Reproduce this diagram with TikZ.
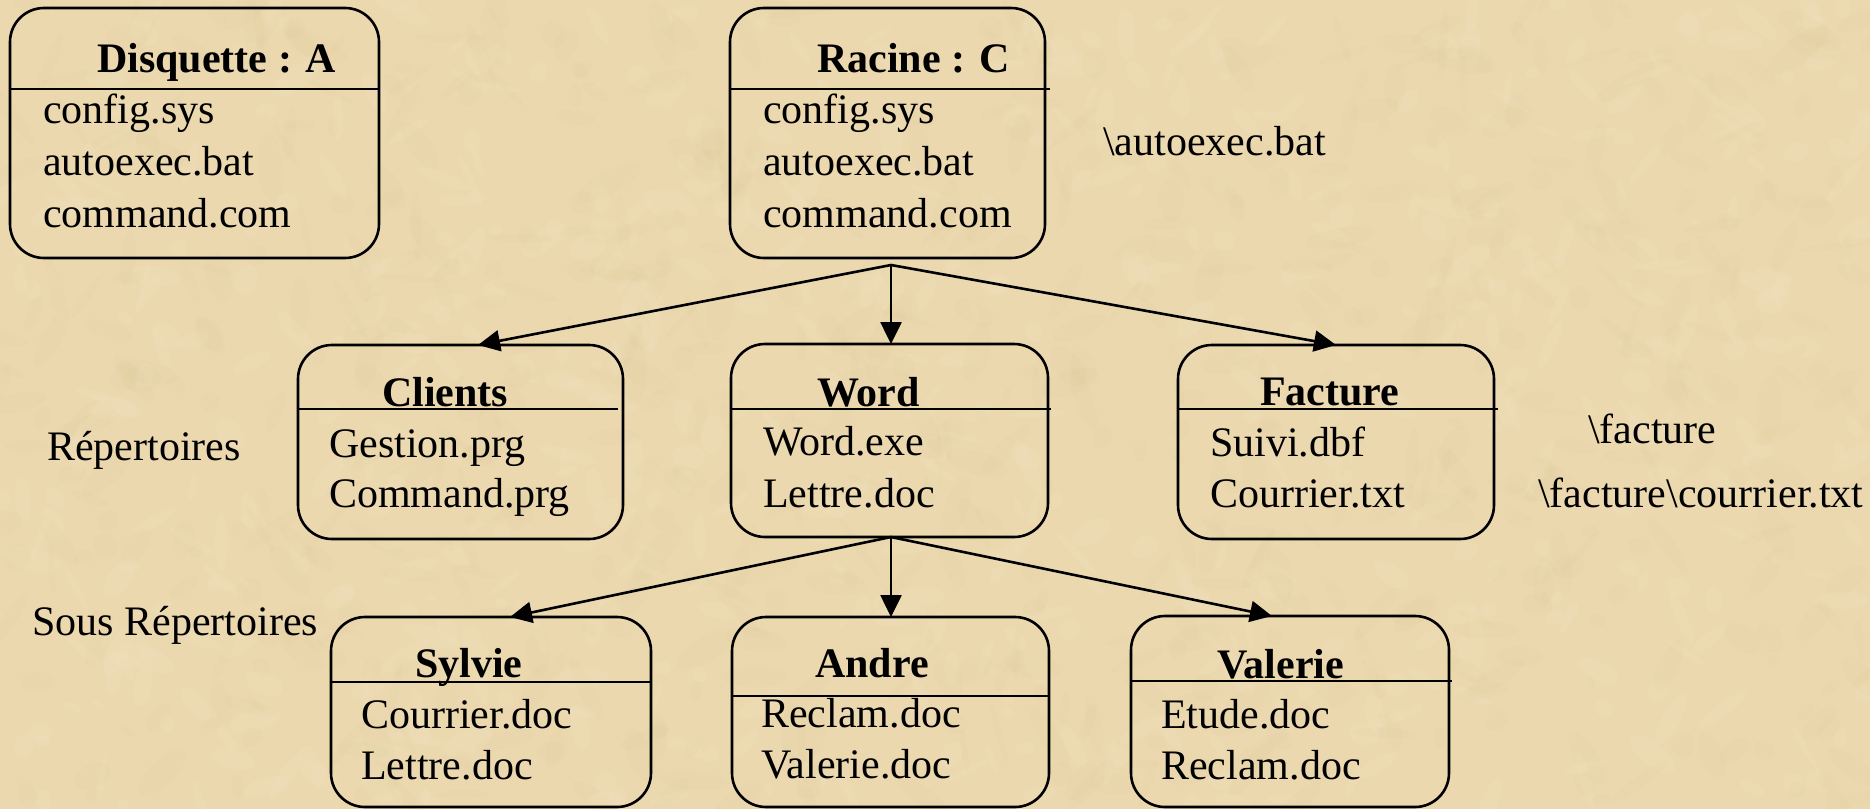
\documentclass[tikz,border=0pt]{standalone}
\usepackage{fontspec}
\setmainfont{Liberation Serif}
\usetikzlibrary{arrows.meta}
\definecolor{parchment}{RGB}{235,216,175}
\definecolor{parchdark}{RGB}{210,182,130}
\definecolor{parchlight}{RGB}{248,236,208}

\begin{document}
\begin{tikzpicture}[x=1pt,y=-1pt,
  dirbox/.style={draw, line width=2.6pt, rounded corners=34pt, inner sep=0pt, outer sep=0pt},
  sepline/.style={line width=2.6pt},
  txt/.style={inner sep=0pt, anchor=base west, font=\fontsize{42}{50}\selectfont},
  ttl/.style={inner sep=0pt, anchor=base west, font=\fontsize{42}{50}\selectfont\bfseries},
  link/.style={line width=2.6pt, -{Triangle[length=22pt,width=21pt]}}]

% paper background with a faint mottled grain
\fill[parchment] (0,0) rectangle (1870,809);
\useasboundingbox (0,0) rectangle (1870,809);
\begin{scope}
  \clip (0,0) rectangle (1870,809);
  \pgfmathsetseed{42}
  \foreach \i in {1,...,700}{
    \pgfmathsetmacro\px{rnd*1870}
    \pgfmathsetmacro\py{rnd*809}
    \pgfmathsetmacro\rx{6+rnd*30}
    \pgfmathsetmacro\ry{3+rnd*10}
    \pgfmathsetmacro\ang{rnd*180}
    \fill[parchdark, opacity=0.06, rotate around={\ang:(\px,\py)}]
      (\px,\py) ellipse [x radius=\rx pt, y radius=\ry pt];
  }
  \foreach \i in {1,...,600}{
    \pgfmathsetmacro\px{rnd*1870}
    \pgfmathsetmacro\py{rnd*809}
    \pgfmathsetmacro\rx{5+rnd*25}
    \pgfmathsetmacro\ry{3+rnd*9}
    \pgfmathsetmacro\ang{rnd*180}
    \fill[parchlight, opacity=0.10, rotate around={\ang:(\px,\py)}]
      (\px,\py) ellipse [x radius=\rx pt, y radius=\ry pt];
  }
\end{scope}

% ---- drive A ----
\node[dirbox, minimum width=369pt, minimum height=250pt] (disq) at (194.5,133) {};
\draw[sepline] ([yshift=-81pt]disq.north west) -- ([yshift=-81pt]disq.north east);
\node[ttl] (disqT) at (97,72) {Disquette : A};
\node[txt] (disq1) at (43,123) {config.sys};
\node[txt] (disq2) at (43,175) {autoexec.bat};
\node[txt] (disq3) at (43,227) {command.com};

% ---- root C ----
\node[dirbox, minimum width=315pt, minimum height=250pt] (racine) at (887.5,133) {};
\draw[sepline] ([yshift=-81pt]racine.north west) -- ([xshift=5pt,yshift=-81pt]racine.north east);
\node[ttl] (racineT) at (817,72) {Racine : C};
\node[txt] (racine1) at (763,123) {config.sys};
\node[txt] (racine2) at (763,175) {autoexec.bat};
\node[txt] (racine3) at (763,227) {command.com};
\node[txt] (pathAuto) at (1103,155) {\textbackslash autoexec.bat};

% ---- directories ----
\node[txt] (lblRep) at (47,460) {Répertoires};

\node[dirbox, minimum width=325pt, minimum height=194pt] (clients) at (460.5,442) {};
\draw[sepline] ([yshift=-64pt]clients.north west) -- ([xshift=-5pt,yshift=-64pt]clients.north east);
\node[ttl] (clientsT) at (382,406) {Clients};
\node[txt] (clients1) at (329,457) {Gestion.prg};
\node[txt] (clients2) at (329,507) {Command.prg};

\node[dirbox, minimum width=317pt, minimum height=193pt] (word) at (889.5,440.5) {};
\draw[sepline] ([yshift=-65pt]word.north west) -- ([xshift=3pt,yshift=-65pt]word.north east);
\node[ttl] (wordT) at (817,406) {Word};
\node[txt] (word1) at (763,455) {Word.exe};
\node[txt] (word2) at (763,507) {Lettre.doc};

\node[dirbox, minimum width=316pt, minimum height=194pt] (facture) at (1336,442) {};
\draw[sepline] ([yshift=-64pt]facture.north west) -- ([xshift=4pt,yshift=-64pt]facture.north east);
\node[ttl] (factureT) at (1260,405) {Facture};
\node[txt] (facture1) at (1210,456) {Suivi.dbf};
\node[txt] (facture2) at (1210,507) {Courrier.txt};
\node[txt] (pathFact) at (1588,443) {\textbackslash facture};
\node[txt] (pathCour) at (1538,507) {\textbackslash facture\textbackslash courrier.txt};

% ---- sub-directories ----
\node[txt] (lblSous) at (32,635) {Sous Répertoires};

\node[dirbox, minimum width=320pt, minimum height=190pt] (sylvie) at (491,712) {};
\draw[sepline] ([yshift=-65pt]sylvie.north west) -- ([yshift=-65pt]sylvie.north east);
\node[ttl] (sylvieT) at (415,677) {Sylvie};
\node[txt] (sylvie1) at (361,728) {Courrier.doc};
\node[txt] (sylvie2) at (361,779) {Lettre.doc};

\node[dirbox, minimum width=317pt, minimum height=190pt] (andre) at (890.5,712) {};
\draw[sepline] ([yshift=-79pt]andre.north west) -- ([yshift=-79pt]andre.north east);
\node[ttl] (andreT) at (815,677) {Andre};
\node[txt] (andre1) at (761,727) {Reclam.doc};
\node[txt] (andre2) at (761,778) {Valerie.doc};

\node[dirbox, minimum width=318pt, minimum height=191pt] (valerie) at (1290,711.5) {};
\draw[sepline] ([yshift=-65pt]valerie.north west) -- ([xshift=3pt,yshift=-65pt]valerie.north east);
\node[ttl] (valerieT) at (1217,678) {Valerie};
\node[txt] (valerie1) at (1161,728) {Etude.doc};
\node[txt] (valerie2) at (1161,779) {Reclam.doc};

% ---- connectors ----
\coordinate (rfork) at (891,265);
\draw[link] (rfork) -- ([xshift=17.5pt]clients.north);
\draw[link] (rfork) -- ([xshift=1.5pt]word.north);
\draw[link] (rfork) -- (facture.north);

\coordinate (wfork) at (891,537);
\draw[link] (wfork) -- ([xshift=19pt]sylvie.north);
\draw[link] (wfork) -- ([xshift=0.5pt]andre.north);
\draw[link] (wfork) -- ([xshift=-18pt]valerie.north);
\end{tikzpicture}
\end{document}
